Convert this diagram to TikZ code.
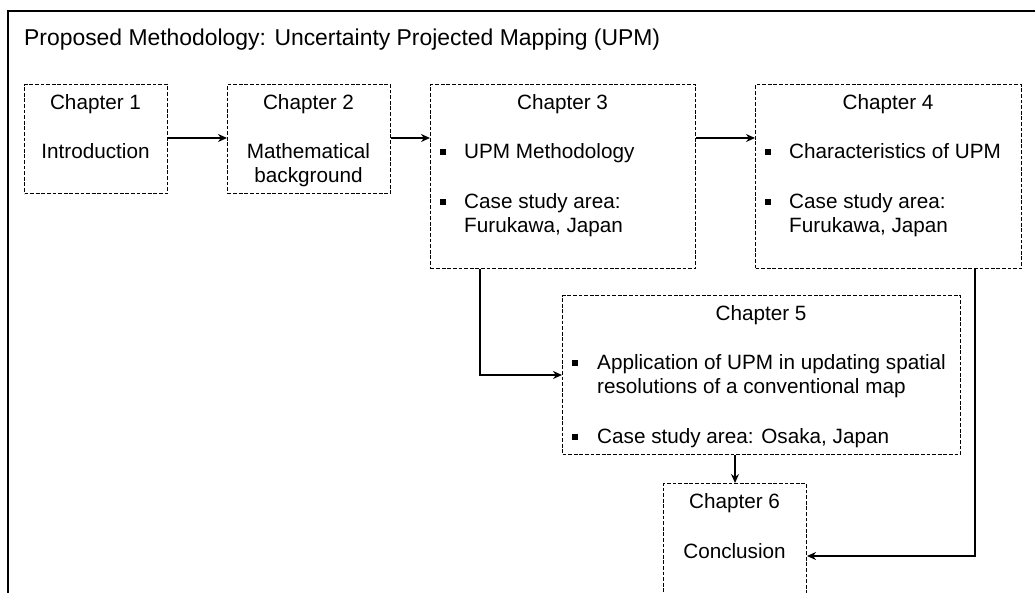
\documentclass[tikz,border=0pt]{standalone}
\usepackage{fontspec}
\setmainfont{Liberation Sans}
\usetikzlibrary{arrows.meta}
\begin{document}
\begin{tikzpicture}[x=1pt,y=-1pt,
  chbox/.style={draw=black, line width=1pt, dash pattern=on 3.8pt off 1.8pt,
    inner sep=0pt, anchor=north west},
  txt/.style={inner sep=0pt, anchor=base, font=\fontsize{20.7}{24}\selectfont},
  ltxt/.style={txt, anchor=base west},
  bulletmark/.style={fill=black, inner sep=0pt, minimum size=6pt},
  arr/.style={draw=black, line width=2.5pt, -{Stealth[length=9pt,width=8pt]}},
]
\useasboundingbox (0,0) rectangle (1035,592);

% outer frame (open at the bottom and on the right)
\draw[line width=2pt, black] (8,600) -- (8,11) -- (1040,11);
\node[inner sep=0pt, anchor=base west, font=\fontsize{22.9}{27}\selectfont] (title) at (24,45)
  {Proposed Methodology: Uncertainty Projected Mapping (UPM)};

% chapter boxes
\node[chbox, minimum width=143pt, minimum height=109pt] (ch1) at (24,84) {};
\node[chbox, minimum width=163pt, minimum height=109pt] (ch2) at (227,84) {};
\node[chbox, minimum width=265pt, minimum height=184pt] (ch3) at (430,84) {};
\node[chbox, minimum width=266pt, minimum height=184pt] (ch4) at (755,84) {};
\node[chbox, minimum width=398pt, minimum height=159pt] (ch5) at (562,295) {};
\node[chbox, minimum width=143pt, minimum height=130pt] (ch6) at (663,483) {};

% chapter 1
\node[txt] (t1a) at (95.5,109) {Chapter 1};
\node[txt] (t1b) at (95.5,158) {Introduction};

% chapter 2
\node[txt] (t2a) at (308.5,109) {Chapter 2};
\node[txt] (t2b) at (308.5,158) {Mathematical};
\node[txt] (t2c) at (308.5,182) {background};

% chapter 3
\node[txt] (t3a) at (562.5,109) {Chapter 3};
\node[bulletmark] (b3a) at (443,151.5) {};
\node[ltxt] (t3b) at (464,158) {UPM Methodology};
\node[bulletmark] (b3b) at (443,201.5) {};
\node[ltxt] (t3c) at (464,208) {Case study area:};
\node[ltxt] (t3d) at (464,232) {Furukawa, Japan};

% chapter 4
\node[txt] (t4a) at (888,109) {Chapter 4};
\node[bulletmark] (b4a) at (768,151.5) {};
\node[ltxt] (t4b) at (789,158) {Characteristics of UPM};
\node[bulletmark] (b4b) at (768,201.5) {};
\node[ltxt] (t4c) at (789,208) {Case study area:};
\node[ltxt] (t4d) at (789,232) {Furukawa, Japan};

% chapter 5
\node[txt] (t5a) at (761,320) {Chapter 5};
\node[bulletmark] (b5a) at (575,362.5) {};
\node[ltxt] (t5b) at (597,369) {Application of UPM in updating spatial};
\node[ltxt] (t5c) at (597,393) {resolutions of a conventional map};
\node[bulletmark] (b5b) at (575,436.5) {};
\node[ltxt] (t5d) at (597,443) {Case study area: Osaka, Japan};

% chapter 6
\node[txt] (t6a) at (734.5,508) {Chapter 6};
\node[txt] (t6b) at (734.5,558) {Conclusion};

% connectors
\coordinate (row) at (0,138);
\coordinate (c3x) at (480,0);
\coordinate (c4x) at (975,0);
\coordinate (c6y) at (0,556);
\draw[arr] (ch1.east |- row) -- (ch2.west |- row);
\draw[arr] (ch2.east |- row) -- (ch3.west |- row);
\draw[arr] (ch3.east |- row) -- (ch4.west |- row);
\draw[arr] (ch3.south -| c3x) |- (ch5.west);
\draw[arr] (ch4.south -| c4x) |- (ch6.east |- c6y);
\draw[arr] (ch5.south -| ch6.north) -- (ch6.north);
\end{tikzpicture}
\end{document}
